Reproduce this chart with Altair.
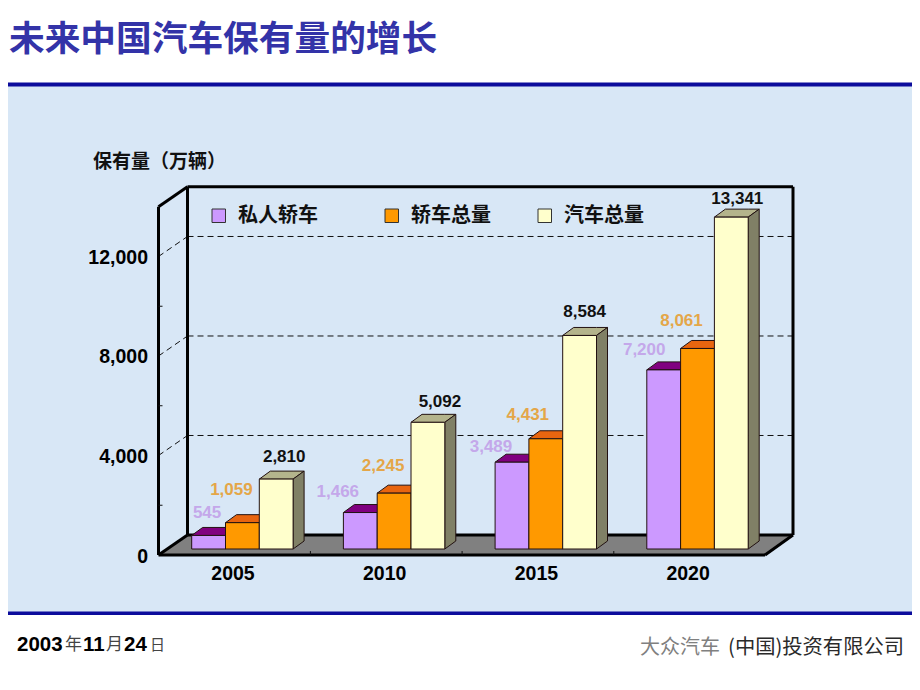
import altair as alt
import pandas as pd

# ---- chart values ----
years = ["2005", "2010", "2015", "2020"]
series = ["私人轿车", "轿车总量", "汽车总量"]
private_cars = [545, 1466, 3489, 7200]
sedans_total = [1059, 2245, 4431, 8061]
vehicles_total = [2810, 5092, 8584, 13341]
value_ticks = [0, 4000, 8000, 12000]
minor_ticks = [2000, 6000, 10000, 14000]
grid_ticks = [4000, 8000, 12000]
title_text = "未来中国汽车保有量的增长"
unit_text = "保有量（万辆）"

# ---- styles ----
front_col = ["#cc99ff", "#ff9900", "#ffffcc"]
top_col = ["#800080", "#e8650f", "#b4b48c"]
side_col = ["#800080", "#e8650f", "#808066"]
label_col = ["#c4a8ea", "#e4a648", "#111111"]
label_dx = [[-1.5, -22.5, -21, -19.5], [-11, -11, -18, -16], [8, 12, 5, 6]]
label_up = [[24.4, 22.5, 17, 21.7], [34.6, 29.1, 25.7, 29.3], [24, 22.2, 25.3, 19.8]]
VPP = 40.2          # value units per pixel
BASE = 549          # page row of the bars' zero
W, H = 904, 674
LEFT, STEP, BW = 191.7, 151.7, 33.8
DX, DY = 11, 8      # bar depth
FDY = 6             # front wall zero below the bar zero
BDY = 14            # back wall zero above the bar zero
AX, BX, AR, BR = 158.5, 187.5, 765, 793

def py(row):
    return (BASE - row) * VPP

xs = alt.Scale(domain=[8, 8 + W], range=[0, W], nice=False, zero=False)
ys = alt.Scale(domain=[py(8 + H), py(8)], range=[H, 0], nice=False, zero=False)
X = lambda f: alt.X(f"{f}:Q", scale=xs, axis=None)
Y = lambda f: alt.Y(f"{f}:Q", scale=ys, axis=None)
X2 = lambda f: alt.X2(f"{f}:Q")
Y2 = lambda f: alt.Y2(f"{f}:Q")

def rects(rows, **kw):
    return alt.Chart(pd.DataFrame(rows)).mark_rect(**kw).encode(
        x=X("x"), x2=X2("x2"), y=Y("y"), y2=Y2("y2"),
        fill=alt.Fill("fill:N", scale=None))

def segs(rows, **kw):
    return alt.Chart(pd.DataFrame(rows)).mark_rule(**kw).encode(
        x=X("x"), x2=X2("x2"), y=Y("y"), y2=Y2("y2"))

def texts(rows, font, weight="bold", align="center"):
    return alt.Chart(pd.DataFrame(rows)).mark_text(
        font=font, fontWeight=weight, align=align, baseline="middle", dy=1.5).encode(
        x=X("x"), y=Y("y"), text="t:N",
        size=alt.Size("s:Q", scale=None),
        color=alt.Color("c:N", scale=None))

SANS = "Liberation Sans"
CJK = "Noto Sans CJK SC"

# background band and the two blue rules
band = rects([
    dict(x=8, x2=912, y=py(86), y2=py(612), fill="#d8e7f6"),
    dict(x=8, x2=912, y=py(82.5), y2=py(86.5), fill="#0c0c9c"),
    dict(x=8, x2=912, y=py(611.5), y2=py(615), fill="#0c0c9c"),
])

# floor
floor_rows = [
    dict(x=AX, y=-FDY * VPP, y2=-FDY * VPP),
    dict(x=BX, y=-FDY * VPP, y2=BDY * VPP),
    dict(x=AR, y=-FDY * VPP, y2=BDY * VPP),
    dict(x=BR, y=BDY * VPP, y2=BDY * VPP),
]
floor = alt.Chart(pd.DataFrame(floor_rows)).mark_area(color="#808080").encode(
    x=X("x"), y=Y("y"), y2=Y2("y2"))

# frame
top_v = 14000
frame_rows = [
    dict(x=BX, x2=BR, y=top_v + BDY * VPP, y2=top_v + BDY * VPP),
    dict(x=BX, x2=BX, y=BDY * VPP, y2=top_v + BDY * VPP),
    dict(x=BR, x2=BR, y=BDY * VPP, y2=top_v + BDY * VPP),
    dict(x=BX, x2=BR, y=BDY * VPP, y2=BDY * VPP),
    dict(x=AX, x2=AX, y=-FDY * VPP, y2=top_v - FDY * VPP),
    dict(x=AX, x2=BX, y=top_v - FDY * VPP, y2=top_v + BDY * VPP),
    dict(x=AX, x2=AR, y=-FDY * VPP, y2=-FDY * VPP),
    dict(x=AX, x2=BX, y=-FDY * VPP, y2=BDY * VPP),
    dict(x=AR, x2=BR, y=-FDY * VPP, y2=BDY * VPP),
]
frame = segs(frame_rows, color="#000000", strokeWidth=3)

grid_rows = []
for t in grid_ticks:
    grid_rows.append(dict(x=BX, x2=BR, y=t + BDY * VPP, y2=t + BDY * VPP))
    grid_rows.append(dict(x=AX, x2=BX, y=t - FDY * VPP, y2=t + BDY * VPP))
grid = segs(grid_rows, color="#111111", strokeWidth=1, strokeDash=[6, 4])

tick_rows = [dict(x=AX, x2=AX + 4, y=t - FDY * VPP, y2=t - FDY * VPP) for t in minor_ticks[:-1]]
for i in range(1, len(years)):
    gx = LEFT + i * STEP - 33
    tick_rows.append(dict(x=gx, x2=gx, y=-FDY * VPP, y2=-2 * VPP))
ticks = segs(tick_rows, color="#111111", strokeWidth=1)

# 3-D bars, projected through the same scales
poly_rows, front_rows = [], []
for j, vals in enumerate([private_cars, sedans_total, vehicles_total]):
    for i, v in enumerate(vals):
        x0 = LEFT + i * STEP + j * BW
        x1 = x0 + BW
        e = DY * VPP
        pid = f"{i}-{j}"
        for xv, a, b in [(x0, v, v), (x0 + DX, v, v + e), (x1, v, v + e), (x1 + DX, v + e, v + e)]:
            poly_rows.append(dict(pid=pid + "t", x=xv, y=a, y2=b, fill=top_col[j]))
        for xv, a, b in [(x1, 0, v), (x1 + DX, e, v + e)]:
            poly_rows.append(dict(pid=pid + "s", x=xv, y=a, y2=b, fill=side_col[j]))
        front_rows.append(dict(x=x0, x2=x1, y=0, y2=v, fill=front_col[j]))

faces = alt.Chart(pd.DataFrame(poly_rows)).mark_area(
    stroke="#221111", strokeWidth=1, strokeJoin="round").encode(
    x=X("x"), y=Y("y"), y2=Y2("y2"),
    detail="pid:N",
    fill=alt.Fill("fill:N", scale=None),
)
fronts = rects(front_rows, stroke="#221111", strokeWidth=1)

# data labels
label_rows = []
for j, vals in enumerate([private_cars, sedans_total, vehicles_total]):
    for i, v in enumerate(vals):
        cx = LEFT + i * STEP + (j + 0.5) * BW
        label_rows.append(dict(x=cx + label_dx[j][i], y=v + label_up[j][i] * VPP,
                               t=f"{v:,}", s=17, c=label_col[j]))
value_labels = texts(label_rows, SANS)

tick_labels = texts(
    [dict(x=148, y=t - FDY * VPP, t=f"{t:,}", s=19.5, c="#000000") for t in value_ticks],
    SANS, align="right")
year_labels = texts(
    [dict(x=LEFT + i * STEP + 41.3, y=py(572), t=y, s=19.5, c="#000000") for i, y in enumerate(years)],
    SANS)

# legend
leg_x = [212, 385, 538]
leg_sw = rects(
    [dict(x=a, x2=a + 13.5, y=py(209), y2=py(222.5), fill=c) for a, c in zip(leg_x, front_col)],
    stroke="#333333", strokeWidth=1)
leg_txt = texts(
    [dict(x=a + 26, y=py(214), t=s, s=20, c="#111111") for a, s in zip(leg_x, series)],
    CJK, align="left")

# titles
title = texts([dict(x=9, y=py(38), t=title_text, s=35.7, c="#3333a8")], CJK, align="left")
unit = texts([dict(x=93, y=py(160), t=unit_text, s=19, c="#111111")], CJK, align="left")

# footer
foot_bold = texts([
    dict(x=17, y=py(643), t="2003", s=20.5, c="#000000"),
    dict(x=83, y=py(643), t="11", s=20.5, c="#000000"),
    dict(x=124, y=py(643), t="24", s=20.5, c="#000000"),
], SANS, align="left")
foot_light = texts([
    dict(x=65, y=py(643), t="年", s=17, c="#444444"),
    dict(x=106, y=py(643), t="月", s=17, c="#444444"),
    dict(x=150, y=py(643), t="日", s=15, c="#444444"),
    dict(x=640, y=py(646), t="大众汽车", s=20, c="#808080"),
], CJK, weight="normal", align="left")
foot_right = texts([dict(x=904, y=py(646), t="(中国)投资有限公司", s=20.3, c="#2a2a2a")],
                   CJK, weight="normal", align="right")

chart = alt.layer(
    band, floor, grid, frame, ticks, faces, fronts,
    value_labels, tick_labels, year_labels, leg_sw, leg_txt,
    title, unit, foot_bold, foot_light, foot_right,
).properties(width=W, height=H, padding=0, background="#ffffff",
             autosize=alt.AutoSizeParams(type="none")
).configure_view(stroke=None)

chart.save("out.html", embed_options={"renderer": "svg", "actions": False})
